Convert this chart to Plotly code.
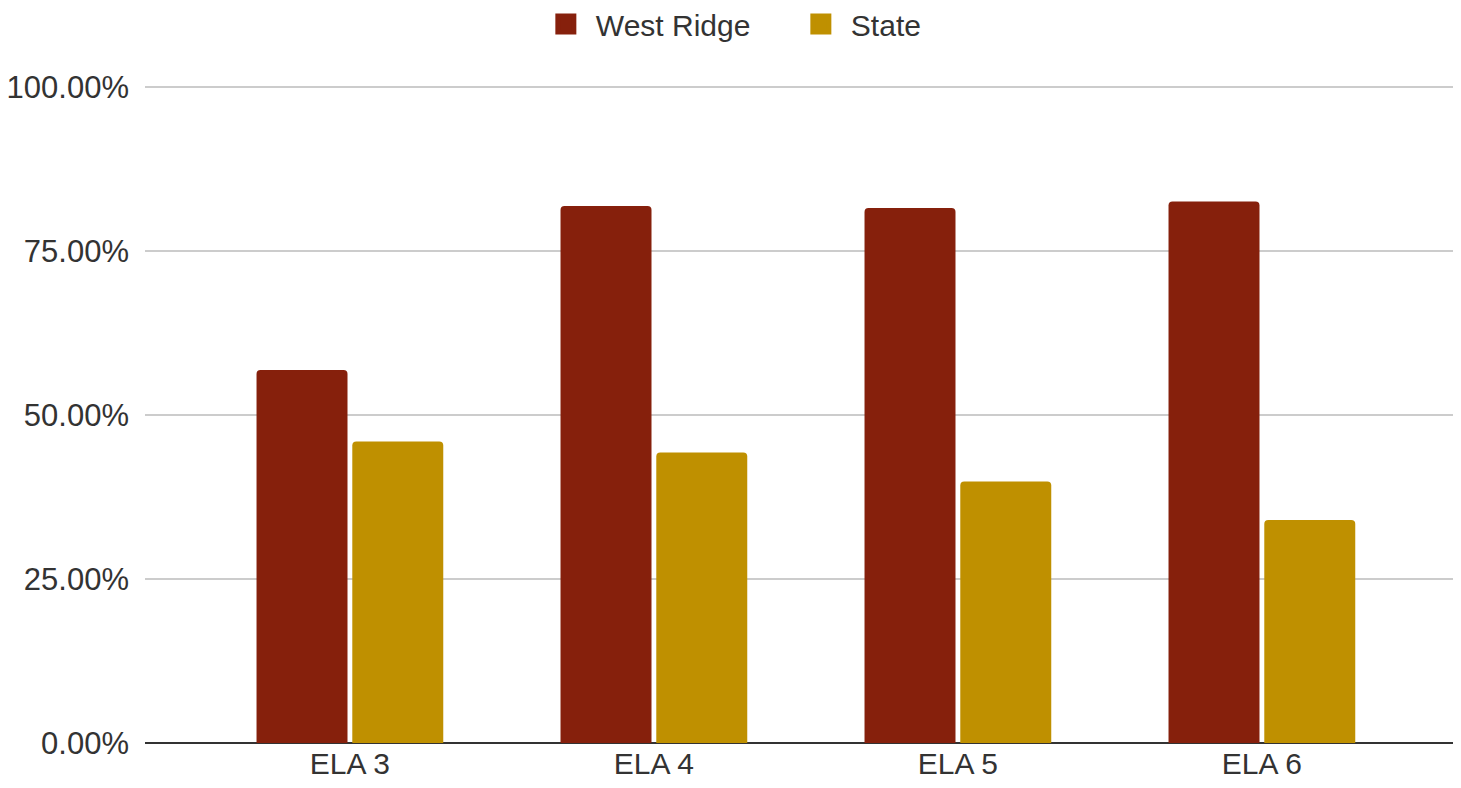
import plotly.graph_objects as go

categories = ["ELA 3", "ELA 4", "ELA 5", "ELA 6"]
west_ridge = [0.569, 0.819, 0.816, 0.826]
state = [0.460, 0.443, 0.399, 0.340]
tick_vals = [0, 0.25, 0.5, 0.75, 1.0]
tick_text = ["0.00%", "25.00%", "50.00%", "75.00%", "100.00%"]
series_names = ["West Ridge", "State"]
series_colors = ["#86200C", "#BF9000"]

FONT = "Liberation Sans, Arial, sans-serif"
TXT = "#333333"

fig = go.Figure()
for name, vals, col in zip(series_names, [west_ridge, state], series_colors):
    fig.add_trace(go.Bar(name=name, x=categories, y=vals, legendgroup=name, showlegend=False,
                         marker=dict(color=col, cornerradius=4, line=dict(width=0))))
# legend-only entries with larger swatches
for name, col in zip(series_names, series_colors):
    fig.add_trace(go.Scatter(name=name, x=[None], y=[None], mode="markers", legendgroup=name,
                             marker=dict(symbol="square", size=16, color=col,
                                         line=dict(color=col, width=5))))

fig.update_layout(
    width=1453, height=780,
    paper_bgcolor="white", plot_bgcolor="white",
    margin=dict(l=137, r=0, t=78, b=45, autoexpand=False),
    barmode="group", bargap=0.37, bargroupgap=0.05,
    font=dict(family=FONT, size=30, color=TXT),
    showlegend=True,
    legend=dict(orientation="h", x=0.297, xanchor="left", y=1.0944, yanchor="middle",
                font=dict(size=30, color=TXT), bgcolor="rgba(0,0,0,0)",
                itemwidth=50, entrywidth=190, entrywidthmode="pixels"),
    xaxis=dict(range=[-0.674, 3.655], showgrid=False, showline=False, ticks="",
               tickfont=dict(size=30, color=TXT)),
    yaxis=dict(range=[0, 1.002], tickvals=tick_vals, ticktext=tick_text,
               showgrid=True, gridcolor="#CCCCCC", gridwidth=2,
               zeroline=True, zerolinecolor="#333333", zerolinewidth=2,
               showline=False, ticks="", ticklabelstandoff=15,
               tickfont=dict(size=31, color=TXT)),
)

fig.write_html("out.html")
